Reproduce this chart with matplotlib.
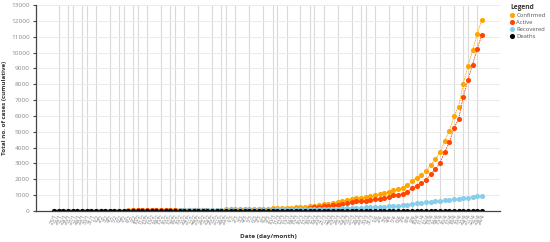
#!/usr/bin/env python3
"""Cumulative COVID-19 cases (Singapore), 23 Jan - 24 Apr."""

import datetime as dt
import matplotlib
matplotlib.use('Agg')
import matplotlib.pyplot as plt

# --- data -------------------------------------------------------------------
start_date = dt.date(2020, 1, 23)
n_days = 93
dates = [start_date + dt.timedelta(days=i) for i in range(n_days)]
date_labels = [f"{d.day}/{d.month}" for d in dates]

confirmed = [
    1, 3, 3, 4, 5, 7, 7, 10, 13,
    16, 18, 18, 24, 28, 28, 30, 33, 40, 45, 47, 50, 58, 67, 72, 75, 77, 81,
    84, 84, 85, 85, 89, 89, 91, 93, 93, 93, 102,
    106, 108, 110, 110, 117, 130, 138, 150, 150, 160, 178, 178, 200, 212, 226,
    243, 266, 313, 345, 385, 432, 455, 509, 558, 631, 683, 732, 802, 844, 879,
    926,
    1000, 1049, 1114, 1189, 1309, 1375, 1481, 1623, 1910, 2108, 2299, 2532,
    2918, 3252, 3699, 4427, 5050, 5992, 6588, 8014, 9125, 10141, 11178, 12075,
]
active = [
    1, 3, 3, 4, 5, 7, 7, 10, 13,
    16, 18, 18, 24, 28, 28, 29, 31, 38, 43, 38, 35, 43, 50, 54, 57, 53, 52,
    50, 50, 48, 48, 38, 38, 38, 31, 31, 31, 30,
    34, 30, 32, 32, 39, 52, 60, 72, 72, 82, 82, 82, 103, 107, 121,
    134, 152, 199, 231, 261, 290, 309, 363, 400, 469, 509, 547, 601, 629, 648,
    683,
    752, 779, 827, 886, 983, 1025, 1098, 1211, 1444, 1609, 1764, 1964,
    2324, 2631, 3037, 3734, 4331, 5241, 5809, 7202, 8275, 9234, 10242, 11107,
]
recovered = [
    0, 0, 0, 0, 0, 0, 0, 0, 0,
    0, 0, 0, 0, 0, 0, 1, 2, 2, 2, 9, 15, 15, 17, 18, 18, 24, 29,
    34, 34, 37, 37, 51, 51, 53, 62, 62, 62, 72,
    72, 78, 78, 78, 78, 78, 78, 78, 78, 78, 96, 96, 97, 105, 105,
    109, 114, 114, 114, 124, 140, 144, 144, 156, 160, 172, 183, 198, 212, 228,
    240,
    245, 266, 282, 297, 320, 344, 377, 406, 460, 492, 528, 560,
    586, 611, 652, 683, 708, 740, 768, 801, 839, 896, 924, 956,
]
deaths = [0] * 58 + [
    2, 2, 2, 2, 2, 2, 2, 3, 3, 3, 3,
    3, 4, 5, 6, 6, 6, 6, 6, 6, 7, 7, 8,
    8, 10, 10, 10, 11, 11, 11, 11, 11, 11, 12, 12,
]

# days that got a visible vertical grid line in the original
grid_days = [1, 3, 4, 6, 7, 9, 12, 14, 15, 17, 18, 20, 23, 25, 26, 28, 31, 34,
             36, 37, 39, 42, 45, 47, 48, 50, 53, 55, 56, 58, 61, 64, 66, 67,
             69, 72, 75, 77, 78, 80, 83, 86, 88, 89, 91]

series = [
    ('Confirmed', confirmed, '#ffa500'),
    ('Active', active, '#ff4500'),
    ('Recovered', recovered, '#87ceeb'),
    ('Deaths', deaths, '#000000'),
]

# --- plot -------------------------------------------------------------------
plt.rcParams['font.family'] = ['Open Sans', 'DejaVu Sans']

fig = plt.figure(figsize=(5.5, 2.42), dpi=100)
ax = fig.add_axes([36 / 550, 1 - 211 / 242, 464 / 550, 206 / 242])

x = list(range(n_days))
for label, values, color in series:
    ax.plot(x, values, linestyle=(0, (2, 1)), linewidth=0.6, color=color,
            marker='o', markersize=3.7, markeredgewidth=0, label=label)

for d in grid_days:
    ax.axvline(d, color='#d9d9d9', linewidth=0.8, zorder=0)
ax.set_yticks(range(0, 13001, 1000))
ax.yaxis.grid(True, color='#ebebeb', linewidth=0.7)
ax.set_axisbelow(True)

ax.set_xlim(-3.87, 95.9)
ax.set_ylim(0, 13000)
ax.set_xticks(x)
ax.set_xticklabels(date_labels, rotation=65, ha='right', rotation_mode='anchor',
                   fontsize=3.8, color='#777777')
ax.tick_params(axis='x', length=0, pad=2)
ax.tick_params(axis='y', labelsize=4.6, labelcolor='#888888', length=2.5,
               width=0.8, color='#444444', pad=2)

for side in ('top', 'right'):
    ax.spines[side].set_visible(False)
for side in ('left', 'bottom'):
    ax.spines[side].set_color('#444444')
    ax.spines[side].set_linewidth(0.9)

ax.set_ylabel('Total no. of cases (cumulative)', fontsize=4.5,
              fontweight='bold', color='#333333', labelpad=3)
ax.set_xlabel('Date (day/month)', fontsize=4.6, fontweight='bold',
              color='#333333', labelpad=6)

leg = ax.legend(loc='upper left', bbox_to_anchor=(510 / 550, 1 - 4 / 242),
                bbox_transform=fig.transFigure, frameon=False, fontsize=4.2,
                title='Legend', handlelength=0.6, handletextpad=0.5,
                labelspacing=0.35, borderpad=0, borderaxespad=0)
leg.get_title().set_fontsize(4.8)
leg.get_title().set_fontweight('bold')
leg.get_title().set_color('#333333')
leg._legend_box.align = 'left'
for text in leg.get_texts():
    text.set_color('#555555')
for handle in leg.legend_handles:
    handle.set_linestyle('')

fig.savefig('out.png', dpi=100)
plt.close(fig)
